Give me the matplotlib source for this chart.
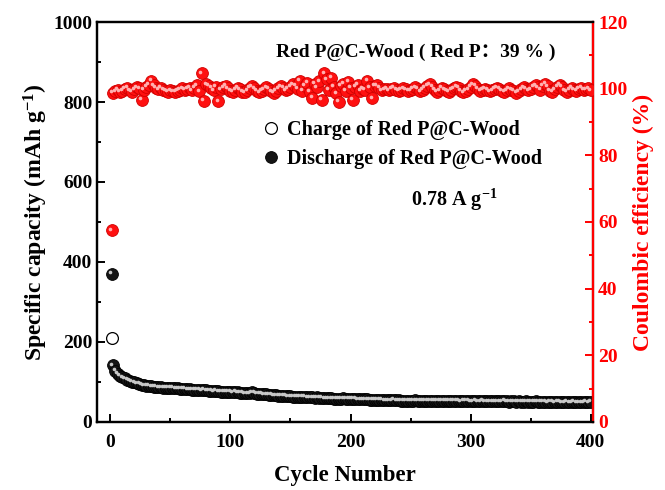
import matplotlib

matplotlib.use("Agg")
import matplotlib.pyplot as plt  # noqa: E402
import matplotlib.transforms as mtransforms  # noqa: E402
import numpy as np  # noqa: E402

plt.rcParams["font.family"] = ["Liberation Serif", "Noto Sans CJK SC"]
plt.rcParams["font.weight"] = "bold"
plt.rcParams["mathtext.fontset"] = "custom"
plt.rcParams["mathtext.rm"] = "Liberation Serif:bold"
plt.rcParams["mathtext.it"] = "Liberation Serif:bold"
plt.rcParams["mathtext.bf"] = "Liberation Serif:bold"

# cycle 1, then every second cycle up to 400
cycles = np.array([1] + list(range(2, 401, 2)))
charge_cycles = [1]
charge_capacity = [210]
discharge_capacity = [
    370,
    142, 128, 121, 116, 112, 109, 106, 103, 101, 99, 97, 95, 93, 92, 91, 90, 89, 88, 88, 87,
    87, 86, 86, 85, 85, 85, 84, 84, 83, 83, 83, 82, 82, 81, 81, 80, 80, 79, 80, 79,
    78, 78, 77, 78, 77, 76, 76, 76, 75, 75, 74, 76, 74, 73, 73, 72, 72, 72, 74, 73,
    71, 70, 70, 69, 69, 68, 68, 67, 67, 66, 66, 65, 65, 64, 64, 63, 63, 63, 62, 62,
    62, 61, 61, 61, 60, 61, 60, 60, 59, 59, 59, 59, 58, 58, 58, 58, 59, 58, 57, 57,
    57, 57, 56, 56, 56, 56, 56, 55, 55, 55, 55, 55, 55, 54, 54, 54, 54, 55, 54, 54,
    53, 53, 53, 53, 53, 53, 54, 53, 53, 53, 52, 53, 53, 52, 52, 53, 52, 52, 52, 52,
    52, 52, 53, 52, 52, 51, 52, 52, 52, 51, 51, 52, 51, 51, 52, 51, 51, 51, 51, 51,
    51, 51, 51, 52, 51, 50, 51, 51, 50, 51, 50, 50, 51, 50, 50, 50, 51, 50, 50, 50,
    50, 49, 50, 50, 49, 50, 50, 49, 49, 50, 49, 49, 50, 49, 49, 49, 49, 50, 49, 50,
]
coulombic_eff = [
    57.5,
    98.8, 99.2, 99.6, 99.0, 99.4, 99.9, 100.3, 99.5, 99.1, 99.8, 100.4, 100.1, 96.6, 99.6, 100.5, 101.2, 102.4, 101.0, 100.3, 99.8,
    100.2, 99.6, 99.3, 99.1, 99.5, 99.2, 99.0, 99.4, 99.7, 100.1, 99.6, 99.9, 100.3, 99.5, 100.2, 101.0, 99.2, 104.6, 96.3, 101.3,
    100.8, 100.2, 99.5, 100.6, 96.2, 99.8, 100.4, 100.9, 100.1, 99.4, 99.0, 99.6, 100.3, 99.8, 99.1, 98.9, 99.5, 100.2, 100.7, 100.1,
    99.4, 98.9, 99.3, 99.8, 100.4, 100.0, 99.2, 98.8, 99.4, 100.1, 100.7, 100.2, 99.5, 99.9, 100.6, 101.3, 100.8, 100.0, 102.3, 99.3,
    100.9, 101.8, 99.0, 97.2, 101.5, 100.4, 102.2, 96.6, 104.6, 102.8, 99.6, 103.2, 100.5, 98.6, 96.1, 100.9, 101.4, 99.3, 102.1, 100.2,
    96.6, 100.5, 101.2, 99.4, 100.0, 99.6, 102.4, 100.4, 97.1, 100.8, 101.0, 100.2, 99.5, 99.8, 99.9, 99.5, 100.0, 100.3, 99.7, 99.4,
    99.6, 100.1, 99.8, 99.3, 99.5, 100.0, 100.4, 99.9, 99.2, 99.6, 100.2, 100.9, 101.3, 100.5, 99.7, 99.1, 99.5, 100.2, 99.8, 99.3,
    99.0, 99.6, 100.1, 100.6, 100.2, 99.4, 98.9, 99.3, 99.8, 100.5, 101.3, 100.8, 99.9, 99.4, 99.6, 100.0, 99.7, 99.2, 99.5, 99.9,
    100.3, 100.0, 99.4, 99.1, 99.5, 100.1, 99.7, 99.3, 98.8, 99.2, 99.8, 100.4, 100.0, 99.5, 99.8, 100.6, 101.0, 100.4, 99.7, 100.9,
    101.5, 100.7, 99.4, 99.0, 99.8, 100.5, 101.2, 100.6, 99.5, 99.0, 99.6, 100.3, 99.7, 99.4, 99.9, 100.2, 99.6, 99.8, 100.1, 99.5,
]

RED = "#ff0000"

fig = plt.figure(figsize=(6.65, 4.9), dpi=100)
ax = fig.add_axes([0.146, 0.139, 0.746, 0.816])
ax2 = ax.twinx()

shine = mtransforms.offset_copy(ax.transData, fig=fig, x=-1.6, y=1.6, units="dots")
shine2 = mtransforms.offset_copy(ax2.transData, fig=fig, x=-1.6, y=1.6, units="dots")

ax.plot(charge_cycles, charge_capacity, "o", ms=8.5, mfc="white", mec="black", mew=0.9,
        label="Charge of Red P@C-Wood", zorder=3)
ax.plot(cycles, discharge_capacity, "o", ms=8.5, mfc="#151515", mec="black", mew=0.6,
        label="Discharge of Red P@C-Wood", zorder=4)
ax.plot(cycles, discharge_capacity, "o", ms=2.6, mfc="#c8c8c8", mec="none", transform=shine, zorder=5)

ax2.plot(cycles, coulombic_eff, "o", ms=8.5, mfc="#ff1010", mec="#d00000", mew=0.6, zorder=3)
ax2.plot(cycles, coulombic_eff, "o", ms=2.6, mfc="#ffb0b0", mec="none", transform=shine2, zorder=4)

ax.set_xlim(-11, 402)
ax.set_ylim(0, 1000)
ax2.set_ylim(0, 120)
ax.set_xticks([0, 100, 200, 300, 400])
ax.set_xticks([50, 150, 250, 350], minor=True)
ax.set_yticks([0, 200, 400, 600, 800, 1000])
ax.set_yticks([100, 300, 500, 700, 900], minor=True)
ax2.set_yticks([0, 20, 40, 60, 80, 100, 120])
ax2.set_yticks([10, 30, 50, 70, 90, 110], minor=True)

for a in (ax, ax2):
    for s in a.spines.values():
        s.set_linewidth(1.6)
ax2.spines["right"].set_color(RED)
ax.tick_params(which="both", direction="in", width=1.4, labelsize=14, right=False, top=False)
ax.tick_params(which="major", length=6)
ax.tick_params(which="minor", length=3)
ax.tick_params(axis="x", which="major", pad=9)
ax2.tick_params(which="both", direction="in", width=1.4, color=RED, labelcolor=RED, labelsize=14)
ax2.tick_params(which="major", length=6)
ax2.tick_params(which="minor", length=3)

ax.set_xlabel("Cycle Number", fontsize=16.5, fontweight="bold", labelpad=10)
ax.set_ylabel(r"Specific capacity (mAh g$^{-1}$)", fontsize=17, fontweight="bold", labelpad=2)
ax2.set_ylabel("Coulombic efficiency (%)", fontsize=17, fontweight="bold", color=RED, labelpad=4)

ax.legend(loc="upper left", bbox_to_anchor=(0.31, 0.78), frameon=False, fontsize=14.5,
          handletextpad=0.3, labelspacing=0.45, handlelength=1.0, borderpad=0)
ax.text(0.643, 0.925, "Red P@C-Wood ( Red P：39 % )", transform=ax.transAxes, ha="center",
        va="center", fontsize=14, fontweight="bold")
ax.text(0.72, 0.555, r"0.78 A g$^{-1}$", transform=ax.transAxes, ha="center", va="center",
        fontsize=14.5, fontweight="bold")

fig.savefig("out.png", dpi=100)
